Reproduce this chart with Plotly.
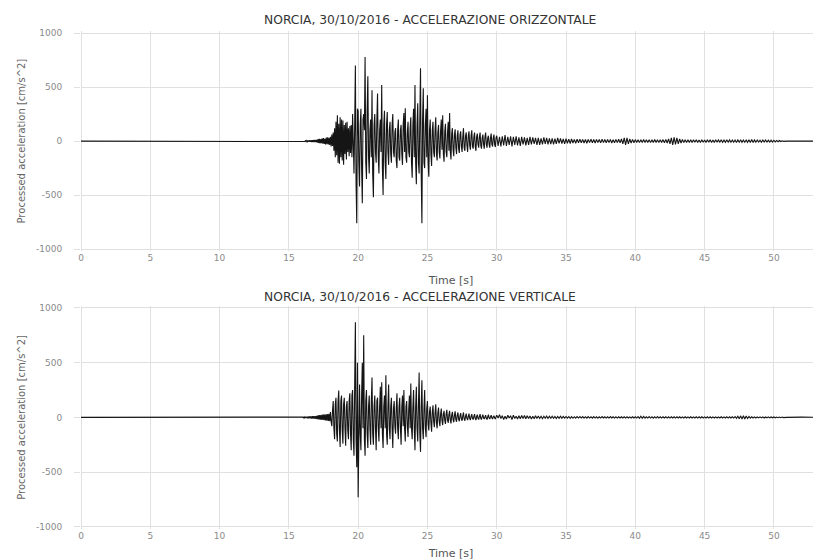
import numpy as np
import plotly.graph_objects as go

# ---------------- data ----------------
TITLE_H = "NORCIA, 30/10/2016 - ACCELERAZIONE ORIZZONTALE"
TITLE_V = "NORCIA, 30/10/2016 - ACCELERAZIONE VERTICALE"

X_TICKS = [0, 5, 10, 15, 20, 25, 30, 35, 40, 45, 50]
Y_TICKS = [-1000, -500, 0, 500, 1000]
Y_TICK_TEXT = ["-1000", "-500", "0", "500", "1000"]

# quiet part before the event
quiet_t = [0.0, 15.95]
quiet_h = [0, 0]
quiet_v = [0, 0]

# strong-motion part: samples every 0.05 s from 16.0 s (one row = 1 s)
strong_t0 = 16.0
strong_dt = 0.05
strong_h = [
    2, -3, 3, -4, 4, -5, 5, -5, 6, -6, 7, -7, 8, -8, 8, -9, 10, -9, 10, -10,
    12, -15, 18, -16, 20, -22, 18, -20, 25, -24, 28, -26, 22, -30, 32, -28, 35, -30, 30, -35,
    40, -50, 60, -45, 80, -90, 120, -150, 180, -130, 240, -200, 160, -210, 220, -150, 200, -180, 190, -220,
    150, -120, 170, -170, 180, -100, 120, -140, 140, -110, 150, -150, 250, -200, -300, 150, 700, -400, -760, 300,
    280, -200, -420, 150, 300, -250, -575, 200, 250, 100, 780, -200, -350, 300, 600, -150, -300, 100, 200, -150,
    470, -300, -520, 150, 250, -100, -200, 200, 440, -150, -300, 100, 200, -100, 520, -250, -500, 150, 280, -200,
    -350, 150, 270, -100, -220, 100, 180, -120, -200, 150, 250, -100, -150, 80, 120, -180, -250, 100, 200, -150,
    -180, 100, 150, -120, -220, 150, 260, -100, 305, -150, -200, 80, 180, -100, -150, 120, 220, -200, -340, 150,
    300, -150, 520, -200, -400, 150, 350, -200, -300, 200, 675, -300, -760, 200, 490, -200, -250, 150, 300, -150,
    425, -200, -330, 100, 200, -120, -230, 100, 180, -100, -150, 100, 220, -120, -180, 80, 150, -100, -160, 100,
    200, -80, 240, -120, -190, 90, 160, -100, -150, 80, 180, -90, 260, -100, -170, 70, 120, -80, -140, 60,
    110, -60, -120, 50, 100, -70, -110, 60, 90, -50, -100, 40, 120, -60, -90, 50, 80, -40, -100, 50,
    90, -40, -80, 50, 100, -50, -70, 40, 80, -50, -90, 40, 70, -30, -60, 40, 80, -40, -70, 30,
    60, -30, -70, 40, 80, -30, -60, 30, 50, -30, -60, 30, 70, -30, -50, 30, 60, -30, -55, 30,
]
strong_v = [
    3, -4, 5, -5, 6, -6, 7, -8, 8, -8, 9, -9, 10, -10, 11, -11, 12, -12, 12, -13,
    15, -15, 18, -18, 20, -20, 22, -22, 25, -24, 25, -26, 28, -28, 28, -30, 30, -32, 32, -35,
    50, -40, -80, 60, 150, -100, -200, 120, 180, -150, -220, 150, 245, -120, -270, 150, 200, -120, -240, 120,
    180, -100, -260, 100, 150, -120, -200, 150, 220, -150, -300, 200, 250, -200, -350, 300, 870, -200, -455, 500,
    -730, -200, 300, -150, -300, 200, 500, -100, 750, -200, -350, 150, 250, -150, -280, 100, 200, -100, -250, 150,
    365, -150, -250, 100, 200, -100, -300, 150, 180, -100, -220, 100, 280, -100, 320, -150, -280, 100, 200, -100,
    385, -150, -250, 100, 300, -100, -200, 100, 180, -100, -280, 80, 150, -80, -150, 80, 220, -100, -200, 100,
    180, -100, -250, 100, 200, -80, 250, -100, -220, 100, 150, -80, -180, 80, 200, -100, 310, -100, -200, 100,
    250, -100, -300, 100, 280, -100, -220, 100, 410, -150, -315, 100, 340, -100, -200, 80, 250, -100, -180, 80,
    150, -60, -120, 50, 100, -50, -130, 50, 110, -40, -90, 40, 120, -50, -100, 40, 90, -40, -80, 30,
    80, -30, -70, 30, 60, -30, -60, 30, 70, -25, -50, 25, 60, -25, -55, 20, 50, -20, -45, 20,
    55, -20, -40, 20, 45, -15, -35, 15, 40, -15, -30, 15, 45, -15, -30, 10, 35, -10, -25, 10,
    35, -10, -25, 10, 30, -10, -20, 10, 30, -10, -25, 10, 25, -10, -20, 10, 30, -10, -20, 10,
    25, -5, -15, 5, 20, -10, -20, 5, 25, -5, -15, 5, 20, -5, -15, 5, 15, -5, -15, 5,
]

# coda: samples every 0.1 s from 30.0 s (one row = 1 s)
coda_t0 = 30.0
coda_dt = 0.1
coda_h = [
    50, -45, 40, -50, 45, -40, 55, -45, 40, -35,
    45, -50, 40, -35, 45, -40, 35, -45, 40, -30,
    35, -40, 30, -35, 40, -30, 35, -25, 30, -35,
    30, -35, 25, -30, 35, -25, 30, -30, 25, -28,
    25, -30, 22, -25, 30, -20, 25, -22, 20, -25,
    22, -20, 18, -22, 20, -18, 16, -20, 18, -15,
    18, -15, 16, -18, 15, -20, 16, -14, 18, -15,
    15, -18, 16, -14, 15, -16, 18, -14, 15, -16,
    15, -14, 16, -18, 14, -15, 16, -14, 18, -16,
    20, -25, 30, -35, 30, -25, 20, -18, 16, -15,
    14, -12, 13, -14, 12, -13, 14, -12, 13, -12,
    12, -14, 13, -12, 14, -13, 12, -14, 13, -12,
    14, -15, 16, -18, 20, -25, 30, -35, 35, -30,
    30, -25, 20, -18, 15, -14, 12, -13, 12, -12,
    12, -13, 12, -11, 13, -12, 11, -12, 12, -11,
    11, -12, 12, -11, 13, -12, 11, -12, 12, -11,
    11, -10, 12, -11, 10, -11, 12, -10, 11, -10,
    10, -11, 10, -12, 11, -10, 12, -11, 10, -10,
    10, -11, 12, -13, 14, -12, 11, -10, 10, -9,
    9, -10, 10, -9, 10, -9, 9, -8, 9, -8,
    8, -7, 6, -6, 5, -4, 3, -2, 1, 0,
]
coda_v = [
    20, -5, 25, -10, 15, -20, 10, -15, 20, -5,
    15, -20, 20, -10, 10, -15, 15, -12, 18, -10,
    18, -12, 15, -10, 12, -15, 10, -12, 15, -10,
    12, -10, 10, -12, 10, -8, 12, -10, 10, -8,
    10, -8, 9, -10, 8, -9, 10, -8, 9, -7,
    8, -7, 8, -8, 7, -8, 6, -7, 8, -6,
    7, -6, 8, -7, 6, -7, 7, -6, 6, -7,
    7, -6, 6, -7, 6, -6, 7, -5, 6, -6,
    6, -6, 7, -5, 6, -6, 5, -6, 6, -5,
    6, -5, 5, -6, 6, -5, 5, -5, 6, -5,
    6, -6, 8, -8, 10, -9, 8, -7, 6, -6,
    7, -6, 6, -7, 6, -6, 7, -6, 6, -6,
    6, -5, 6, -6, 5, -6, 6, -5, 5, -6,
    5, -5, 6, -5, 5, -5, 6, -5, 5, -5,
    6, -5, 5, -5, 5, -6, 5, -5, 6, -5,
    5, -5, 5, -6, 5, -5, 5, -5, 5, -5,
    5, -5, 6, -5, 5, -5, 5, -6, 5, -5,
    6, -6, 8, -9, 10, -12, 14, -15, 15, -14,
    12, -10, 8, -7, 6, -5, 5, -5, 5, -4,
    5, -4, 5, -5, 4, -4, 5, -4, 4, -4,
    4, -4, 3, -3, 3, -3, 3, -2, 2, 0,
]

# end of record
end_t = [52.0, 53.4]
end_h = [0, 0]
end_v = [2, 0]


def build(quiet_vals, strong_vals, coda_vals, end_vals):
    t_strong = strong_t0 + strong_dt * np.arange(len(strong_vals))
    t_coda = coda_t0 + coda_dt * np.arange(len(coda_vals))
    t = np.concatenate([quiet_t, t_strong, t_coda, end_t])
    a = np.concatenate([quiet_vals, strong_vals, coda_vals, end_vals])
    return t, a


t_h, a_h = build(quiet_h, strong_h, coda_h, end_h)
t_v, a_v = build(quiet_v, strong_v, coda_v, end_v)

# ---------------- figure ----------------
# the page body adds an 8 px margin, so the figure is 8 px smaller and every
# target position (measured on the reference) is shifted by 8 px
OFF = 8
W, H = 821 - OFF, 560 - OFF
FONT = "DejaVu Sans"
GRID = "#e0e0e0"
ML = 81 - OFF
MT = 30.8 - OFF
MB = H - (529.2 - OFF)
PH = H - MT - MB

fig = go.Figure()
fig.add_trace(go.Scatter(x=t_h, y=a_h, mode="lines",
                         line=dict(color="#151515", width=1.1),
                         xaxis="x", yaxis="y", showlegend=False))
fig.add_trace(go.Scatter(x=t_v, y=a_v, mode="lines",
                         line=dict(color="#151515", width=1.1),
                         xaxis="x2", yaxis="y2", showlegend=False))

top_dom = [1 - (251.2 - OFF - MT) / PH, 1.0]
bot_dom = [0.0, 1 - (305.8 - OFF - MT) / PH]

xcommon = dict(range=[0, 53.4], tickvals=X_TICKS, showgrid=True, gridcolor=GRID,
               gridwidth=1, zeroline=True, zerolinecolor=GRID, zerolinewidth=1,
               showline=False, ticks="", automargin=False,
               tickfont=dict(family=FONT, size=9, color="#8a8a8a"),
               title=dict(text="Time [s]", font=dict(family=FONT, size=11, color="#555555"),
                          standoff=14))
ycommon = dict(range=[-1020, 1020], tickvals=Y_TICKS, ticktext=Y_TICK_TEXT,
               showgrid=True, gridcolor=GRID, gridwidth=1, zeroline=True,
               zerolinecolor=GRID, zerolinewidth=1, showline=False,
               ticks="outside", ticklen=6, tickcolor=GRID, ticklabelstandoff=10,
               automargin=False,
               tickfont=dict(family=FONT, size=9, color="#8a8a8a"),
               title=dict(text="Processed acceleration [cm/s^2]",
                          font=dict(family=FONT, size=10, color="#666666"), standoff=8))


def py_to_paper(py):
    return (H - MB - (py - OFF)) / PH


fig.update_layout(
    width=W, height=H,
    margin=dict(l=ML, r=0, t=MT, b=MB, autoexpand=False),
    paper_bgcolor="white", plot_bgcolor="white",
    xaxis=dict(domain=[0, 1], anchor="y", **xcommon),
    yaxis=dict(domain=top_dom, anchor="x", **ycommon),
    xaxis2=dict(domain=[0, 1], anchor="y2", **xcommon),
    yaxis2=dict(domain=bot_dom, anchor="x2", **ycommon),
    annotations=[
        dict(text=TITLE_H, x=(262 - 81) / (W - ML), y=py_to_paper(20),
             xref="paper", yref="paper", xanchor="left", yanchor="middle",
             showarrow=False, font=dict(family=FONT, size=12.3, color="#333333")),
        dict(text=TITLE_V, x=(262 - 81) / (W - ML), y=py_to_paper(297),
             xref="paper", yref="paper", xanchor="left", yanchor="middle",
             showarrow=False, font=dict(family=FONT, size=12.3, color="#333333")),
    ],
)

fig.write_html("out.html")
